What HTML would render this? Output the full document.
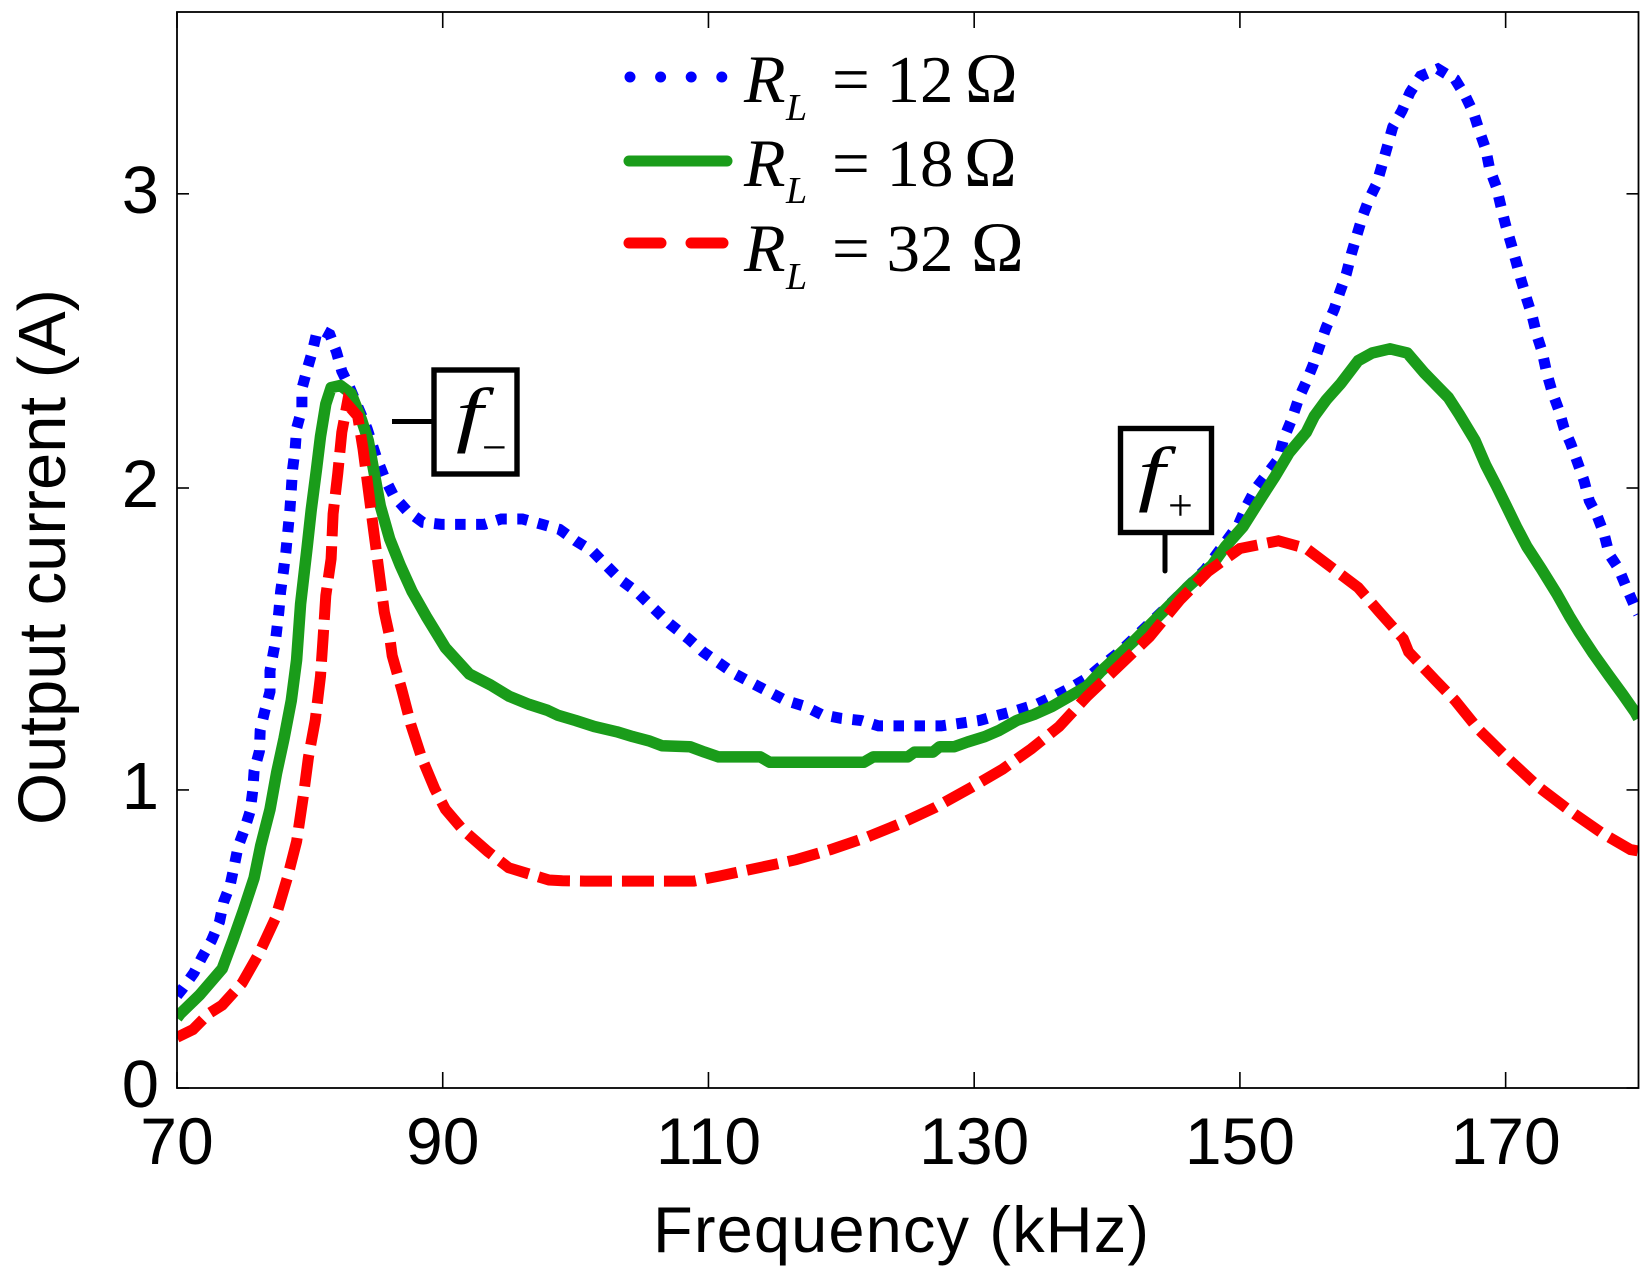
<!DOCTYPE html>
<html lang="en">
<head>
<meta charset="utf-8">
<title>Output current vs frequency</title>
<style>
html,body{margin:0;padding:0;background:#fff;}
svg{display:block;}
text{fill:#000;}
.sans{font-family:"Liberation Sans",Arial,sans-serif;}
.serif{font-family:"Liberation Serif","Times New Roman",serif;}
.it{font-style:italic;}
</style>
</head>
<body>
<svg id="chart" xmlns="http://www.w3.org/2000/svg" width="1646" height="1273" viewBox="0 0 1646 1273">
  <defs>
    <clipPath id="plot-clip"><rect x="177" y="12" width="1462" height="1076"/></clipPath>
  </defs>
  <rect width="1646" height="1273" fill="#fff"/>
  <g id="series" clip-path="url(#plot-clip)"></g>
  <g id="axes"></g>

  <text class="sans" x="653" y="1252" font-size="65" textLength="496" lengthAdjust="spacing">Frequency (kHz)</text>
  <text class="sans" transform="translate(65,825) rotate(-90)" font-size="67" textLength="536" lengthAdjust="spacing">Output current (A)</text>

  <g>
    <g>
      <line x1="630" y1="77" x2="722" y2="77" stroke="#0000ff" stroke-width="11" stroke-linecap="round" stroke-dasharray="0 30.6"/>
      <text class="serif it" x="744" y="102" font-size="68">R</text>
      <text class="serif it" x="786" y="120" font-size="38">L</text>
      <text class="serif" x="832" y="102" font-size="67">= 12</text>
      <text class="serif" x="965" y="102" font-size="71">Ω</text>
    </g>
    <g>
      <line x1="629" y1="161" x2="727" y2="161" stroke="#1a9c1a" stroke-width="11" stroke-linecap="round"/>
      <text class="serif it" x="744" y="186" font-size="68">R</text>
      <text class="serif it" x="786" y="203" font-size="38">L</text>
      <text class="serif" x="832" y="186" font-size="67">= 18</text>
      <text class="serif" x="964" y="186" font-size="71">Ω</text>
    </g>
    <g>
      <line x1="629" y1="243" x2="723" y2="243" stroke="#ff0000" stroke-width="11" stroke-linecap="round" stroke-dasharray="32 30"/>
      <text class="serif it" x="744" y="271" font-size="68">R</text>
      <text class="serif it" x="786" y="289" font-size="38">L</text>
      <text class="serif" x="832" y="271" font-size="67">= 32</text>
      <text class="serif" x="971" y="271" font-size="71">Ω</text>
    </g>
  </g>

  <g>
    <line x1="392" y1="421.5" x2="434" y2="421.5" stroke="#000" stroke-width="5"/>
    <rect x="434" y="370" width="83" height="104" fill="#fff" stroke="#000" stroke-width="5.4"/>
    <text class="serif it" transform="translate(456,438) scale(1.35,1)" font-size="72">f</text>
    <text class="serif" x="482" y="462" font-size="44">−</text>
  </g>
  <g>
    <line x1="1165" y1="533" x2="1165" y2="571" stroke="#000" stroke-width="5" stroke-linecap="round"/>
    <rect x="1120.5" y="428.5" width="91" height="104" fill="#fff" stroke="#000" stroke-width="5.4"/>
    <text class="serif it" transform="translate(1138,497) scale(1.35,1)" font-size="72">f</text>
    <text class="serif" x="1168" y="520" font-size="44">+</text>
  </g>
</svg>

<script>
const xTickValues = [70, 90, 110, 130, 150, 170];
const yTickValues = [0, 1, 2.013, 3];
const yTickLabels = ['0', '1', '2', '3'];

const freq12 = [70,70.4,71.27,71.9,72.6,73.2,73.5,74,74.3,74.6,75.07,75.5,75.7,75.8,76.2,76.26,76.6,77,77,77.4,77.66,77.8,78,78.2,78.5,78.6,78.7,78.9,79,79.4,79.4,79.8,80.2,80.5,81,81.5,82,82.4,83,84.3,85,85.6,86.3,87.3,88.5,89.9,91.5,93.1,94.4,96,97.5,98.8,100,101.25,102.3,103.4,104.6,105.7,107.06,108.5,109.6,110.76,112,113.3,114.6,115.8,117.3,118.5,120,121.5,122.8,124.4,126,127.5,129,130.4,131.75,133.2,134.7,136,137.2,138.5,139.4,141,143,145,147.4,149.9,150.5,151.2,152,152.9,153.3,153.9,154.45,155,155.5,156,156.5,157.1,157.5,158,158.4,158.8,159.2,159.7,160.3,160.7,161.1,161.5,162.2,162.8,163.6,164.9,166.2,167,167.6,168,168.5,168.8,169.3,169.65,170,170.4,170.8,171.15,171.6,172,172.35,172.75,173.1,173.5,174,174.4,174.9,175.4,175.9,176.3,176.9,177.4,177.8,178.5,179.1,179.7,180];
const current12 = [0.31,0.332,0.386,0.44,0.495,0.558,0.623,0.68,0.743,0.81,0.867,0.928,0.996,1.064,1.13,1.2,1.264,1.33,1.4,1.495,1.596,1.665,1.73,1.8,1.94,2.008,2.076,2.145,2.213,2.278,2.346,2.412,2.473,2.53,2.54,2.528,2.47,2.405,2.35,2.213,2.117,2.049,1.987,1.937,1.898,1.891,1.891,1.891,1.909,1.909,1.891,1.874,1.836,1.802,1.754,1.704,1.665,1.617,1.558,1.507,1.463,1.427,1.389,1.358,1.328,1.3,1.28,1.253,1.24,1.233,1.215,1.215,1.215,1.215,1.224,1.233,1.25,1.267,1.287,1.314,1.341,1.375,1.409,1.465,1.55,1.635,1.74,1.891,1.953,2.012,2.058,2.11,2.179,2.243,2.316,2.37,2.425,2.49,2.553,2.613,2.668,2.73,2.8,2.86,2.92,2.98,3.035,3.097,3.16,3.224,3.279,3.34,3.395,3.419,3.384,3.325,3.27,3.213,3.15,3.083,3.024,2.957,2.895,2.834,2.77,2.713,2.645,2.59,2.525,2.47,2.398,2.336,2.275,2.213,2.162,2.1,2.038,1.97,1.918,1.86,1.79,1.743,1.679,1.617,1.59];

const freq18 = [70,70.26,71.7,73.4,74.2,75,75.8,76.3,77,77.5,78.05,78.6,79,79.3,79.8,80.1,80.5,80.8,81.2,81.6,82.3,83.1,83.9,84.4,84.9,85.3,86,86.8,87.7,88.75,90.2,92,93.6,95,96.5,97.9,98.7,100,101.4,103.1,104.3,105.5,106.5,108.6,109.7,110.76,113.9,114.6,121.7,122.4,125,125.5,126.9,127.4,128.5,129.5,130.8,131.9,133.2,134.5,135.85,137.2,138.5,139.5,142.1,144.2,146.05,147.9,148.9,150.25,151.7,152.6,153.7,155,155.6,156.5,157.6,158.9,159.95,161.3,162.6,163.9,165.7,166.5,167.7,168.5,169.3,170.05,170.8,171.6,172.7,173.85,174.8,175.55,176.6,177.8,178.8,179.75,180];
const current18 = [0.235,0.25,0.312,0.4,0.495,0.596,0.705,0.813,0.935,1.057,1.172,1.3,1.436,1.624,1.816,1.939,2.076,2.186,2.295,2.35,2.357,2.33,2.24,2.172,2.049,1.953,1.843,1.754,1.665,1.583,1.477,1.389,1.352,1.314,1.287,1.267,1.25,1.233,1.213,1.195,1.179,1.165,1.148,1.145,1.127,1.111,1.111,1.093,1.093,1.111,1.111,1.127,1.127,1.145,1.145,1.161,1.179,1.2,1.233,1.253,1.28,1.314,1.348,1.396,1.503,1.597,1.68,1.754,1.816,1.884,1.987,2.049,2.131,2.2,2.254,2.309,2.364,2.44,2.466,2.48,2.466,2.398,2.316,2.261,2.172,2.09,2.021,1.953,1.884,1.816,1.741,1.658,1.583,1.528,1.457,1.382,1.321,1.26,1.24];

const freq32 = [70,71.2,72.4,73.4,74.9,76.2,77.4,78.3,79,79.5,79.9,80.4,80.8,81,81.2,81.6,81.75,82.1,82.4,82.8,83.6,84,84.4,84.8,85.2,85.6,86,86.2,86.9,87.6,88.4,89.4,90.2,91.5,93.4,94.96,96.5,98,99,100.7,106,108.9,110.8,113.7,116.6,119.2,121.85,124.5,127.1,129.8,132.15,134.3,136.4,138.5,143.2,145.5,147.6,150,152.9,155,157.3,158.9,160.5,162.3,162.7,164.7,166.2,167.9,170.2,172.5,174.9,177.3,179.4,180];
const current32 = [0.17,0.196,0.25,0.278,0.352,0.454,0.569,0.705,0.827,0.976,1.111,1.233,1.382,1.51,1.652,1.775,1.926,2.063,2.2,2.295,2.254,2.145,2.008,1.871,1.734,1.597,1.515,1.45,1.34,1.22,1.11,1.003,0.935,0.867,0.793,0.739,0.718,0.698,0.695,0.694,0.694,0.694,0.711,0.738,0.766,0.8,0.84,0.888,0.942,1.009,1.07,1.138,1.213,1.314,1.514,1.638,1.733,1.81,1.836,1.81,1.733,1.679,1.597,1.507,1.463,1.369,1.3,1.206,1.104,1.009,0.928,0.854,0.8,0.795];

const NS = 'http://www.w3.org/2000/svg';
const PLOT_LEFT = 177, PLOT_RIGHT = 1638.5, PLOT_TOP = 12, PLOT_BOTTOM = 1088;
const X_MIN = 70, X_MAX = 180, Y_MAX = 3.61;
function xScale(v){ return PLOT_LEFT + (v - X_MIN) / (X_MAX - X_MIN) * (PLOT_RIGHT - PLOT_LEFT); }
function yScale(v){ return PLOT_BOTTOM - v / Y_MAX * (PLOT_BOTTOM - PLOT_TOP); }
function linePath(xs, ys){
  return xs.map(function(x, i){ return (i ? 'L' : 'M') + xScale(x).toFixed(1) + ' ' + yScale(ys[i]).toFixed(1); }).join('');
}

const seriesGroup = document.getElementById('series');
const axesGroup = document.getElementById('axes');

const blue = document.createElementNS(NS, 'path');


blue.setAttribute('d', linePath(freq12, current12));
blue.setAttribute('fill', 'none');
blue.setAttribute('stroke', '#0000ff');
blue.setAttribute('stroke-width', '11');
blue.setAttribute('stroke-dasharray', '10.5 10.5');
seriesGroup.appendChild(blue);

const green = document.createElementNS(NS, 'path');


green.setAttribute('d', linePath(freq18, current18));
green.setAttribute('fill', 'none');
green.setAttribute('stroke', '#1a9c1a');
green.setAttribute('stroke-width', '11.5');
green.setAttribute('stroke-linejoin', 'round');
seriesGroup.appendChild(green);

const red = document.createElementNS(NS, 'path');


red.setAttribute('d', linePath(freq32, current32));
red.setAttribute('fill', 'none');
red.setAttribute('stroke', '#ff0000');
red.setAttribute('stroke-width', '11');
red.setAttribute('stroke-dasharray', '32 10');
seriesGroup.appendChild(red);

const frame = document.createElementNS(NS, 'rect');


frame.setAttribute('x', PLOT_LEFT);
frame.setAttribute('y', PLOT_TOP);
frame.setAttribute('width', PLOT_RIGHT - PLOT_LEFT);
frame.setAttribute('height', PLOT_BOTTOM - PLOT_TOP);
frame.setAttribute('fill', 'none');
frame.setAttribute('stroke', '#000');
frame.setAttribute('stroke-width', '1.8');
axesGroup.appendChild(frame);

function tickLine(parent, x1, y1, x2, y2){
  const ln = document.createElementNS(NS, 'line');
  
  
  ln.setAttribute('x1', x1);
  ln.setAttribute('y1', y1);
  ln.setAttribute('x2', x2);
  ln.setAttribute('y2', y2);
  ln.setAttribute('stroke', '#000');
  ln.setAttribute('stroke-width', '1.6');
  parent.appendChild(ln);
}

xTickValues.forEach(function(v){
  const px = xScale(v);
  tickLine(axesGroup, px, PLOT_BOTTOM, px, PLOT_BOTTOM - 16);
  tickLine(axesGroup, px, PLOT_TOP, px, PLOT_TOP + 16);
  const label = document.createElementNS(NS, 'text');
  
  
  label.setAttribute('class', 'sans');
  label.setAttribute('x', px);
  label.setAttribute('y', 1164);
  label.setAttribute('font-size', '66');
  label.setAttribute('text-anchor', 'middle');
  label.textContent = String(v);
  axesGroup.appendChild(label);
});

yTickValues.forEach(function(v, i){
  const py = yScale(v);
  tickLine(axesGroup, PLOT_LEFT, py, PLOT_LEFT + 12, py);
  tickLine(axesGroup, PLOT_RIGHT, py, PLOT_RIGHT - 12, py);
  const label = document.createElementNS(NS, 'text');
  
  
  label.setAttribute('class', 'sans');
  label.setAttribute('x', 159);
  label.setAttribute('y', py + 19);
  label.setAttribute('font-size', '67');
  label.setAttribute('text-anchor', 'end');
  label.textContent = yTickLabels[i];
  axesGroup.appendChild(label);
});
</script>
</body>
</html>
